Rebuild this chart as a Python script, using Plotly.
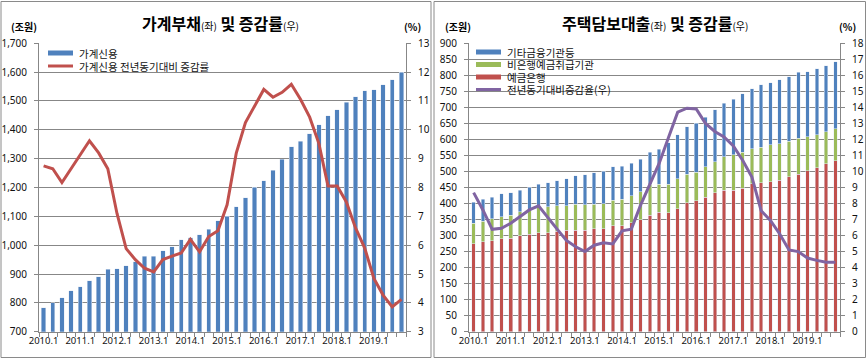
import plotly.graph_objects as go

W, H = 867, 359

quarters = [f"{y}.{q}" for y in range(2010, 2020) for q in range(1, 5)]
quarter_labels = [q if q.endswith(".1") else "" for q in quarters]

# Left panel: 가계신용 (조원) and YoY growth (%)
household_credit = [783, 800, 817, 842, 856, 877, 891, 917, 918, 928,
                    942, 962, 962, 980, 994, 1018, 1025, 1036, 1056, 1084,
                    1100, 1134, 1165, 1201, 1223, 1259, 1298, 1341, 1360, 1386,
                    1418, 1449, 1470, 1495, 1515, 1536, 1539, 1556, 1574, 1600]
household_growth = [8.75, 8.65, 8.17, 8.65, 9.14, 9.62, 9.2, 8.65, 7.1, 5.88,
                    5.5, 5.2, 5.07, 5.5, 5.62, 5.73, 6.2, 5.77, 6.3, 6.5,
                    7.4, 9.19, 10.25, 10.8, 11.4, 11.13, 11.3, 11.58, 11.06, 10.44,
                    9.53, 8.05, 8.05, 7.5, 6.6, 5.9, 4.85, 4.27, 3.86, 4.12]

# Right panel: 주택담보대출 by sector (조원) and YoY growth (%)
deposit_banks = [274, 281, 284, 290, 292, 300, 304, 309, 309, 314,
                 316, 317, 317, 321, 321, 330, 330, 340, 349, 364,
                 373, 371, 384, 402, 408, 420, 433, 442, 442, 448,
                 461, 465, 468, 473, 484, 492, 502, 512, 524, 534]
nonbank_deposit = [64, 64, 68, 68, 72, 74, 76, 81, 81, 79,
                   77, 80, 79, 77, 79, 81, 84, 84, 88, 96,
                   87, 89, 94, 90, 89, 95, 97, 104, 110, 112,
                   110, 111, 115, 113, 111, 112, 106, 102, 100, 99]
other_fin = [66, 69, 68, 72, 69, 68, 71, 70, 75, 78,
             84, 89, 94, 98, 100, 103, 103, 101, 101, 100,
             110, 130, 136, 148, 153, 155, 162, 167, 174, 182,
             187, 194, 194, 200, 200, 205, 203, 206, 206, 209]
mortgage_growth = [8.68, 7.6, 6.39, 6.45, 6.77, 7.18, 7.6, 7.85, 7.1, 6.4,
                   5.7, 5.3, 5.0, 5.4, 5.55, 5.48, 6.3, 6.4, 7.9, 9.2,
                   10.5, 12.1, 13.7, 13.95, 13.9, 13.0, 12.5, 12.15, 11.6, 10.7,
                   9.65, 7.55, 6.95, 6.1, 5.1, 5.0, 4.6, 4.45, 4.33, 4.33]

BLUE, RED, GREEN, PURPLE = "#4F81BD", "#C0504D", "#9BBB59", "#8064A2"
GRID = "#878787"
KFONT = "Noto Sans CJK KR"
NFONT = "Noto Sans"


def px(x):
    return x / W


def py(y):
    return 1 - y / H


fig = go.Figure()
fig.add_trace(go.Bar(x=quarters, y=household_credit, marker_color=BLUE, width=0.48,
                     xaxis="x", yaxis="y", name="가계신용"))
fig.add_trace(go.Scatter(x=quarters, y=household_growth, mode="lines",
                         line=dict(color=RED, width=3), xaxis="x", yaxis="y2",
                         name="가계신용 전년동기대비 증감률"))
fig.add_trace(go.Bar(x=quarters, y=deposit_banks, marker_color=RED, width=0.38,
                     xaxis="x2", yaxis="y3", name="예금은행"))
fig.add_trace(go.Bar(x=quarters, y=nonbank_deposit, marker_color=GREEN, width=0.38,
                     xaxis="x2", yaxis="y3", name="비은행예금취급기관"))
fig.add_trace(go.Bar(x=quarters, y=other_fin, marker_color=BLUE, width=0.38,
                     xaxis="x2", yaxis="y3", name="기타금융기관등"))
fig.add_trace(go.Scatter(x=quarters, y=mortgage_growth, mode="lines",
                         line=dict(color=PURPLE, width=3), xaxis="x2", yaxis="y4",
                         name="전년동기대비증감율(우)"))

ydom = [py(331.7), py(43.3)]
tickfont = dict(family=NFONT, size=10, color="#111")
xcommon = dict(type="category", tickmode="array", tickvals=quarters, ticktext=quarter_labels,
               tickson="boundaries", ticks="outside", ticklen=4, tickcolor=GRID,
               showline=True, linecolor=GRID, linewidth=1, showgrid=False, automargin=False,
               tickfont=dict(family=NFONT, size=9.5, color="#111"), tickangle=0)
ycommon = dict(ticks="outside", ticklen=4, tickcolor=GRID, showline=True, linecolor=GRID,
               linewidth=1, tickfont=tickfont, zeroline=False, ticklabelstandoff=5,
               automargin=False)

fig.update_layout(
    width=W, height=H, margin=dict(l=0, r=0, t=0, b=0, autoexpand=False),
    paper_bgcolor="white", plot_bgcolor="rgba(0,0,0,0)",
    barmode="stack", showlegend=False,
    xaxis=dict(domain=[px(39), px(406)], anchor="y", **xcommon),
    yaxis=dict(domain=ydom, range=[700, 1700], dtick=100, tick0=700, tickformat=",",
               showgrid=True, gridcolor=GRID, gridwidth=1, anchor="x", **ycommon),
    yaxis2=dict(overlaying="y", side="right", anchor="x", range=[3, 13], dtick=1,
                showgrid=False, **ycommon),
    xaxis2=dict(domain=[px(469), px(840)], anchor="y3", **xcommon),
    yaxis3=dict(domain=ydom, range=[0, 900], dtick=50, tick0=0,
                showgrid=True, gridcolor=GRID, gridwidth=1, anchor="x2", **ycommon),
    yaxis4=dict(overlaying="y3", side="right", anchor="x2", range=[0, 18], dtick=1,
                showgrid=False, **ycommon),
)

shapes = [
    dict(type="rect", xref="paper", yref="paper", x0=px(1), x1=px(431), y0=py(357.5), y1=py(1.5),
         line=dict(color="#8a8a8a", width=1)),
    dict(type="rect", xref="paper", yref="paper", x0=px(434), x1=px(865.5), y0=py(357.5), y1=py(1.5),
         line=dict(color="#8a8a8a", width=1)),
]
annotations = []


def legend_item(x0, y, color, width, text):
    shapes.append(dict(type="line", xref="paper", yref="paper", x0=px(x0), x1=px(x0 + 25),
                       y0=py(y), y1=py(y), line=dict(color=color, width=width)))
    annotations.append(dict(xref="paper", yref="paper", x=px(x0 + 29), y=py(y), text=text,
                            showarrow=False, xanchor="left", yanchor="middle",
                            font=dict(family=KFONT, size=10.5, color="#111")))


legend_item(48, 53, BLUE, 5, "가계신용")
legend_item(48, 66, RED, 3, "가계신용 전년동기대비 증감률")
legend_item(476, 52, BLUE, 5, "기타금융기관등")
legend_item(476, 64.5, GREEN, 5, "비은행예금취급기관")
legend_item(476, 77, RED, 5, "예금은행")
legend_item(476, 89.5, PURPLE, 3, "전년동기대비증감율(우)")


def title(xc, text):
    annotations.append(dict(xref="paper", yref="paper", x=px(xc), y=py(23), text=text,
                            showarrow=False, xanchor="center", yanchor="middle",
                            font=dict(family=KFONT, size=16, color="#000")))


small = "<span style='font-size:10px'>{}</span>"
title(221, "<b>가계부채</b>" + small.format("(좌)") + "<b> 및 증감률</b>" + small.format("(우)"))
title(655, "<b>주택담보대출</b>" + small.format("(좌)") + "<b> 및 증감률</b>" + small.format("(우)"))


def unit(x, text, anchor):
    annotations.append(dict(xref="paper", yref="paper", x=px(x), y=py(27), text=text,
                            showarrow=False, xanchor=anchor, yanchor="middle",
                            font=dict(family=KFONT, size=10, color="#000")))


unit(9, "<b>(조원)</b>", "left")
unit(423, "<b>(%)</b>", "right")
unit(443, "<b>(조원)</b>", "left")
unit(858, "<b>(%)</b>", "right")

fig.update_layout(shapes=shapes, annotations=annotations)

post = ("document.documentElement.style.margin='0';"
        "document.body.style.margin='0';document.body.style.padding='0';"
        "document.body.style.overflow='hidden';"
        "var d=document.getElementById('{plot_id}');"
        "d.style.position='absolute';d.style.top='0px';d.style.left='0px';")
fig.write_html("out.html", config={"displayModeBar": False}, post_script=post)
